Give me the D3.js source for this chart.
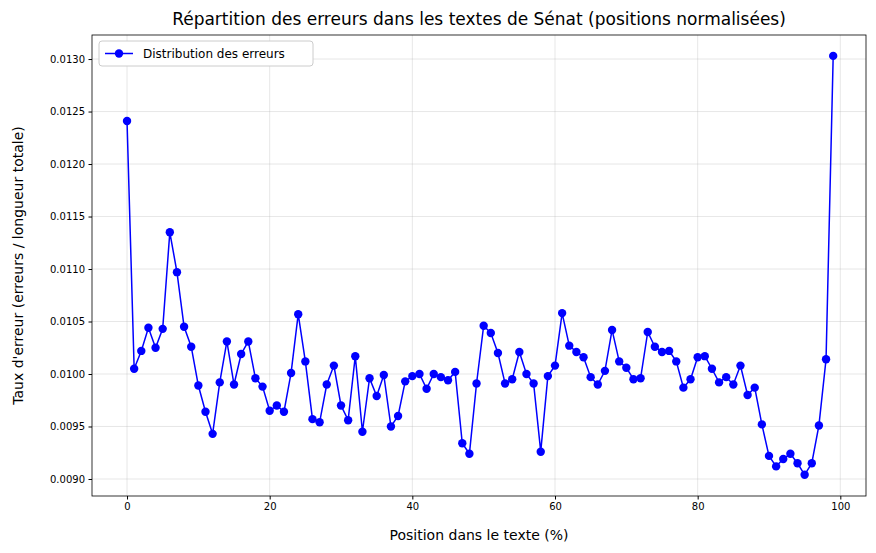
<!DOCTYPE html>
<html><head><meta charset="utf-8">
<script src="https://cdn.jsdelivr.net/npm/d3@7"></script>
<style>body{margin:0;background:#fff;font-family:"DejaVu Sans",sans-serif}</style>
</head><body><svg id="chart" width="876" height="553"></svg>
<script>
// taux d'erreur par position (0..99)
const rates = [0.01241,0.01005,0.01022,0.01044,0.01025,0.01043,0.01135,0.01097,0.01045,0.01026,
0.00989,0.00964,0.00943,0.00992,0.01031,0.00990,0.01019,0.01031,0.00996,0.00988,
0.00965,0.00970,0.00964,0.01001,0.01057,0.01012,0.00957,0.00954,0.00990,0.01008,
0.00970,0.00956,0.01017,0.00945,0.00996,0.00979,0.00999,0.00950,0.00960,0.00993,
0.00998,0.01000,0.00986,0.01000,0.00997,0.00994,0.01002,0.00934,0.00924,0.00991,
0.01046,0.01039,0.01020,0.00991,0.00995,0.01021,0.01000,0.00991,0.00926,0.00998,
0.01008,0.01058,0.01027,0.01021,0.01016,0.00997,0.00990,0.01003,0.01042,0.01012,
0.01006,0.00995,0.00996,0.01040,0.01026,0.01021,0.01022,0.01012,0.00987,0.00995,
0.01016,0.01017,0.01005,0.00992,0.00997,0.00990,0.01008,0.00980,0.00987,0.00952,
0.00922,0.00912,0.00919,0.00924,0.00915,0.00904,0.00915,0.00951,0.01014,0.01303];
const xTicks = [0,20,40,60,80,100];
const yTicks = [0.0090,0.0095,0.0100,0.0105,0.0110,0.0115,0.0120,0.0125,0.0130];

const svg = d3.select("#chart");
const L = 92, R = 866, T = 35, B = 496;
const x = d3.scaleLinear().domain([-4.91, 103.6]).range([L, R]);
const y = d3.scaleLinear().domain([0.008838, 0.013229]).range([B, T]);

//grid
svg.append("g").selectAll("line").data(xTicks).join("line")
    .attr("x1", d => x(d)).attr("x2", d => x(d)).attr("y1", T).attr("y2", B)
    .attr("stroke", "#b0b0b0").attr("stroke-opacity", 0.3);
svg.append("g").selectAll("line").data(yTicks).join("line")
    .attr("y1", d => y(d)).attr("y2", d => y(d)).attr("x1", L).attr("x2", R)
    .attr("stroke", "#b0b0b0").attr("stroke-opacity", 0.3);

//axes
const xa = svg.append("g").attr("transform", `translate(0,${B})`)
    .call(d3.axisBottom(x).tickValues(xTicks).tickSize(3.5).tickPadding(3.5));
const ya = svg.append("g").attr("transform", `translate(${L},0)`)
    .call(d3.axisLeft(y).tickValues(yTicks).tickFormat(d3.format(".4f")).tickSize(3.5).tickPadding(3.5));
[xa, ya].forEach(a => {
    a.select(".domain").remove();
    a.selectAll("text").attr("font-size", 10).attr("fill", "#000").attr("font-family", "DejaVu Sans");
    a.selectAll("line").attr("stroke", "#000");
});
svg.append("rect").attr("x", L).attr("y", T).attr("width", R - L).attr("height", B - T)
    .attr("fill", "none").attr("stroke", "#000").attr("stroke-width", 0.8);

//line + markers
const pts = rates.map((v, i) => [i, v]);
svg.append("path").datum(pts).attr("fill", "none").attr("stroke", "#0000ff").attr("stroke-width", 1.5)
    .attr("d", d3.line().x(d => x(d[0])).y(d => y(d[1])));
svg.append("g").selectAll("circle").data(pts).join("circle")
    .attr("cx", d => x(d[0])).attr("cy", d => y(d[1])).attr("r", 4.2).attr("fill", "#0000ff");

//titles
svg.append("text").attr("x", (L + R) / 2).attr("y", 25).attr("text-anchor", "middle")
    .attr("font-size", 17).text("Répartition des erreurs dans les textes de Sénat (positions normalisées)");
svg.append("text").attr("x", (L + R) / 2).attr("y", 540).attr("text-anchor", "middle")
    .attr("font-size", 14).text("Position dans le texte (%)");
svg.append("text").attr("transform", `translate(23,${(T + B) / 2}) rotate(-90)`).attr("text-anchor", "middle")
    .attr("font-size", 14).text("Taux d'erreur (erreurs / longueur totale)");

//legend
const lg = svg.append("g").attr("transform", "translate(99,41)");
lg.append("rect").attr("width", 214).attr("height", 25).attr("rx", 3).attr("fill", "#fff")
    .attr("stroke", "#ccc");
lg.append("line").attr("x1", 6).attr("x2", 34).attr("y1", 12.5).attr("y2", 12.5)
    .attr("stroke", "#0000ff").attr("stroke-width", 1.5);
lg.append("circle").attr("cx", 20).attr("cy", 12.5).attr("r", 4.2).attr("fill", "#0000ff");
lg.append("text").attr("x", 44).attr("y", 17).attr("font-size", 12).text("Distribution des erreurs");
</script></body></html>
